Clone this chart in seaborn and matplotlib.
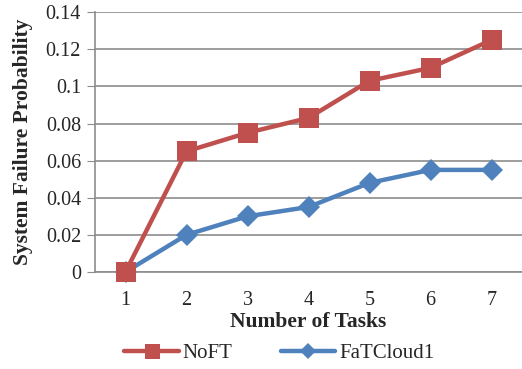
import pandas as pd
import matplotlib.pyplot as plt
import seaborn as sns

tasks = [1, 2, 3, 4, 5, 6, 7]
noft = [0.0, 0.065, 0.075, 0.083, 0.103, 0.110, 0.125]
fatcloud1 = [0.0, 0.020, 0.030, 0.035, 0.048, 0.055, 0.055]
yticks = [0, 0.02, 0.04, 0.06, 0.08, 0.1, 0.12, 0.14]
ytick_labels = ["0", "0.02", "0.04", "0.06", "0.08", "0.1", "0.12", "0.14"]

sns.set_style("white")
plt.rcParams["font.family"] = ["Liberation Serif", "DejaVu Serif"]

fig = plt.figure(figsize=(5.22, 3.69), dpi=100)
ax = fig.add_axes([0.182, 0.263, 0.818, 0.704])

sns.lineplot(x=tasks, y=noft, ax=ax, color="#C0504D", linewidth=3.2,
             marker="s", markersize=15, markeredgewidth=0, label="NoFT",
             zorder=4, clip_on=False)
sns.lineplot(x=tasks, y=fatcloud1, ax=ax, color="#4F81BD", linewidth=3.2,
             marker="D", markersize=11.5, markeredgewidth=0, label="FaTCloud1",
             zorder=3, clip_on=False)

ax.set_xlim(0.5, 7.5)
ax.set_ylim(0, 0.14)
ax.set_xticks(tasks)
ax.set_xticklabels([str(t) for t in tasks], fontsize=14.5)
ax.set_yticks(yticks)
ax.set_yticklabels(ytick_labels, fontsize=14.5)
ax.yaxis.grid(True, color="#8c8c8c", linewidth=1.2)
ax.set_axisbelow(True)
for side in ["top", "right"]:
    ax.spines[side].set_visible(False)
for side in ["left", "bottom"]:
    ax.spines[side].set_color("#8c8c8c")
    ax.spines[side].set_linewidth(1.2)
ax.tick_params(axis="y", which="both", left=True, length=6, color="#8c8c8c", pad=4)
ax.tick_params(axis="x", which="both", bottom=False, pad=10)

ax.set_xlabel("Number of Tasks", fontsize=15.5, fontweight="bold", labelpad=2)
ax.set_ylabel("System Failure Probability", fontsize=15.5, fontweight="bold", labelpad=9)

ax.get_legend().remove()
handles, labels = ax.get_legend_handles_labels()
leg = fig.legend(handles, labels, loc="lower center", bbox_to_anchor=(0.535, -0.035),
                 ncol=2, frameon=False, fontsize=15, handlelength=2.6,
                 columnspacing=2.3, handletextpad=0.2, markerscale=0.72)

fig.savefig("out.png", dpi=100)
